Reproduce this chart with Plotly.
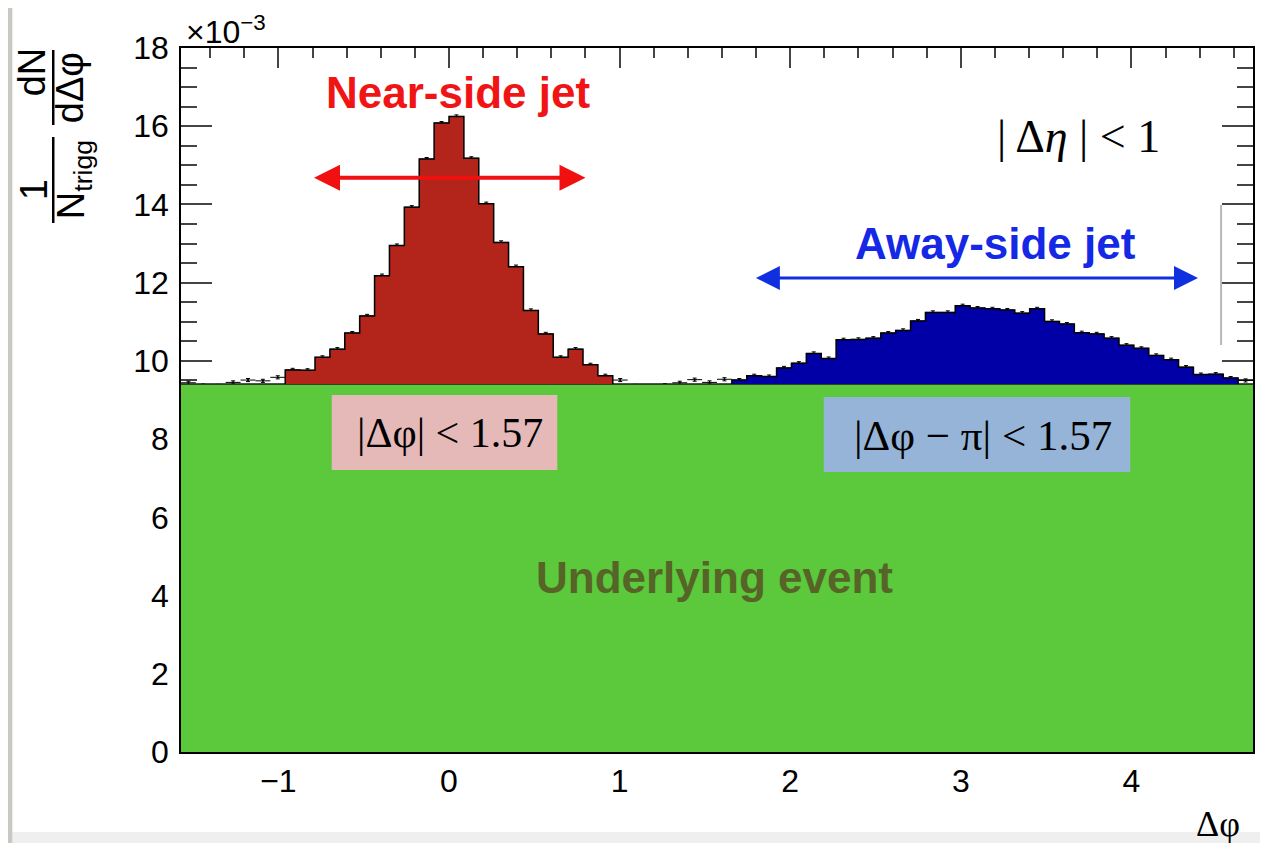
import numpy as np
import plotly.graph_objects as go

# ---------------- data ----------------
PHI_MIN = -np.pi / 2
PHI_MAX = 3 * np.pi / 2
N_BINS = 72

# per-trigger yield in each delta-phi bin, units of 1e-3
yield_per_bin = [
    9.44, 9.37, 9.36, 9.45, 9.51, 9.49, 9.58, 9.77, 9.76, 10.09,
    10.30, 10.71, 11.15, 12.18, 12.95, 13.93, 15.16, 16.08, 16.25, 15.18,
    14.02, 13.03, 12.41, 11.29, 10.69, 10.09, 10.30, 9.90, 9.62, 9.51,
    9.36, 9.34, 9.38, 9.44, 9.52, 9.45, 9.53, 9.51, 9.62, 9.60,
    9.82, 9.94, 10.19, 10.06, 10.54, 10.55, 10.58, 10.71, 10.78, 11.02,
    11.24, 11.24, 11.41, 11.35, 11.33, 11.30, 11.22, 11.33, 11.01, 10.94,
    10.72, 10.69, 10.58, 10.40, 10.32, 10.14, 10.03, 9.84, 9.65, 9.66,
    9.56, 9.50,
]
PEDESTAL = 9.41          # underlying event level, units of 1e-3
STAT_ERR = 0.04          # typical statistical error, units of 1e-3
NEAR_FIRST, NEAR_LAST = 7, 28
AWAY_FIRST, AWAY_LAST = 37, 70

x_tick_vals = [-1, 0, 1, 2, 3, 4]
y_tick_vals = [0, 2, 4, 6, 8, 10, 12, 14, 16, 18]

near_arrow = (-0.80, 0.80, 14.68)
away_arrow = (1.79, 4.39, 12.12)

# ---------------- geometry helpers ----------------
OFF = 8                       # page margin of the html body
W, H = 1252, 835
ML, MR, MT, MB = 173, 5, 40, 91
PW, PH = W - ML - MR, H - MT - MB


def pxx(px):                  # page pixel -> paper x
    return (px - OFF - ML) / PW


def pxy(py):                  # page pixel -> paper y
    return (H - MB - (py - OFF)) / PH


edges = np.linspace(PHI_MIN, PHI_MAX, N_BINS + 1)
centers = 0.5 * (edges[:-1] + edges[1:])
half_w = 0.5 * (edges[1] - edges[0])


def step_polygon(first, last):
    xs = [edges[first]] + list(edges[first:last + 1]) + [edges[last + 1]]
    ys = [PEDESTAL] + yield_per_bin[first:last + 1] + [PEDESTAL]
    return xs, ys


SANS = "Liberation Sans, Arial, Helvetica, sans-serif"
SERIF = "Liberation Serif, Times New Roman, serif"

fig = go.Figure()

# data points with error bars (all bins)
fig.add_trace(go.Scatter(
    x=centers, y=yield_per_bin, mode="markers",
    marker=dict(size=2, color="black"),
    error_x=dict(type="constant", value=half_w, color="black", thickness=1, width=0),
    error_y=dict(type="constant", value=STAT_ERR, color="black", thickness=1, width=2),
    showlegend=False, hoverinfo="skip",
))

# underlying event pedestal
fig.add_trace(go.Scatter(
    x=[PHI_MIN, PHI_MAX], y=[PEDESTAL, PEDESTAL], mode="lines",
    line=dict(color="#1a1a1a", width=1.5), fill="tozeroy", fillcolor="#5cc83c",
    showlegend=False, hoverinfo="skip",
))

# near-side jet
nx, ny = step_polygon(NEAR_FIRST, NEAR_LAST)
fig.add_trace(go.Scatter(
    x=nx, y=ny, mode="lines", line=dict(color="black", width=1.5, shape="hv"),
    fill="toself", fillcolor="#b3241b", showlegend=False, hoverinfo="skip",
))

# away-side jet
axs, ays = step_polygon(AWAY_FIRST, AWAY_LAST)
fig.add_trace(go.Scatter(
    x=axs, y=ays, mode="lines", line=dict(color="black", width=1.5, shape="hv"),
    fill="toself", fillcolor="#0000a6", showlegend=False, hoverinfo="skip",
))

shapes = [
    # page background
    dict(type="rect", xref="paper", yref="paper", x0=pxx(12), x1=pxx(1268), y0=pxy(8), y1=pxy(832),
         fillcolor="white", line_width=0, layer="below"),
    dict(type="rect", xref="paper", yref="paper", x0=pxx(12), x1=pxx(1268), y0=pxy(832), y1=pxy(851),
         fillcolor="#efefef", line_width=0, layer="below"),
    # fraction bars of the y title
    dict(type="line", xref="paper", yref="paper", x0=pxx(53), x1=pxx(53), y0=pxy(50), y1=pxy(125),
         line=dict(color="black", width=2.5)),
    dict(type="line", xref="paper", yref="paper", x0=pxx(53), x1=pxx(53), y0=pxy(137), y1=pxy(223),
         line=dict(color="black", width=2.5)),
    # label boxes
    dict(type="rect", xref="paper", yref="paper", x0=pxx(332), x1=pxx(558), y0=pxy(395), y1=pxy(470),
         fillcolor="#e6b9b9", line_width=0, layer="above"),
    dict(type="rect", xref="paper", yref="paper", x0=pxx(825), x1=pxx(1132), y0=pxy(397), y1=pxy(472),
         fillcolor="#96b4d7", line_width=0, layer="above"),
    # grey vertical artefact line
    dict(type="line", xref="paper", yref="paper", x0=pxx(1223), x1=pxx(1223), y0=pxy(205), y1=pxy(345),
         line=dict(color="#b8b8b8", width=2)),
]

ann = []


def txt(text, px, py, size, color="black", family=SANS, angle=0, xanchor="center", yanchor="middle"):
    ann.append(dict(text=text, x=pxx(px), y=pxy(py), xref="paper", yref="paper",
                    showarrow=False, font=dict(size=size, color=color, family=family),
                    textangle=angle, xanchor=xanchor, yanchor=yanchor))


txt("<b>Near-side jet</b>", 459, 92, 44, color="#f01414")
txt("<b>Away-side jet</b>", 997, 243, 44, color="#1428e6")
txt("<b>Underlying event</b>", 715, 577, 44, color="#566428")
txt("| Δ<i>η</i> | &lt; 1", 1080, 136, 46, family=SERIF)
txt("|Δφ| &lt; 1.57", 451, 433, 42, family=SERIF)
txt("|Δφ − π| &lt; 1.57", 984, 435, 43, family=SERIF)
txt("Δφ", 1220, 824, 36, family=SERIF)
txt("×10<sup>−3</sup>", 184, 30, 32, xanchor="left")
# y-axis title (rotated fraction)
txt("dN", 32, 72, 38, angle=-90)
txt("dΔφ", 70, 88, 38, angle=-90)
txt("1", 34, 190, 38, angle=-90)
txt("N<sub>trigg</sub>", 74, 180, 38, angle=-90)

# double-headed arrows
for (x0, x1, yv), col, wd, sz in [(near_arrow, "#f01010", 4, 1.3), (away_arrow, "#1030e0", 3, 1.6)]:
    ann.append(dict(x=x1, y=yv, ax=x0, ay=yv, xref="x", yref="y", axref="x", ayref="y",
                    text="", showarrow=True, arrowhead=2, arrowside="end+start",
                    arrowsize=sz, arrowwidth=wd, arrowcolor=col))

fig.update_layout(
    width=W, height=H, autosize=False,
    margin=dict(l=ML, r=MR, t=MT, b=MB, pad=0),
    paper_bgcolor="#c9c9c4", plot_bgcolor="white",
    shapes=shapes, annotations=ann, showlegend=False,
    font=dict(family=SANS, color="black"),
)
fig.update_xaxes(
    range=[PHI_MIN, PHI_MAX], tickvals=x_tick_vals, ticks="inside", ticklen=20, tickwidth=1.5,
    showline=True, linecolor="black", linewidth=1.5, mirror="ticks", showgrid=False, zeroline=False,
    layer="below traces", tickfont=dict(size=32, family=SANS), ticklabelstandoff=0,
    minor=dict(dtick=0.2, ticks="inside", ticklen=10, tickwidth=1.5, showgrid=False),
)
fig.update_yaxes(
    range=[0, 18], tickvals=y_tick_vals, ticks="inside", ticklen=31, tickwidth=1.5,
    showline=True, linecolor="black", linewidth=1.5, mirror="ticks", showgrid=False, zeroline=False,
    layer="below traces", tickfont=dict(size=32, family=SANS), ticklabelstandoff=4,
    minor=dict(dtick=0.5, ticks="inside", ticklen=16, tickwidth=1.5, showgrid=False),
)

fig.write_html("out.html")
